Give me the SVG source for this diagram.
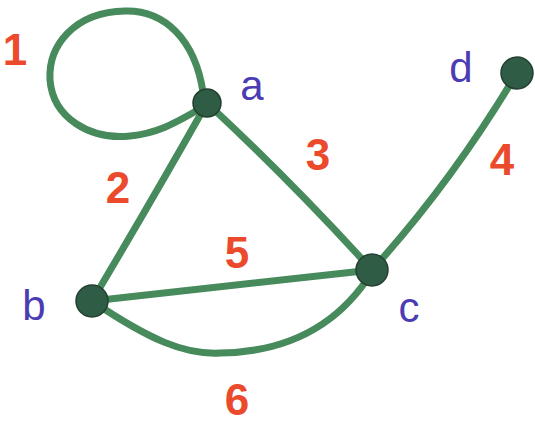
<svg xmlns="http://www.w3.org/2000/svg" width="535" height="427" viewBox="0 0 535 427">
<style>
.e{fill:none;stroke:#478a5c;stroke-width:7;stroke-linecap:round}
.n{fill:#2f5c44;stroke:#243f31;stroke-width:1.5}
.w{font-family:"Liberation Sans",Arial,sans-serif;font-size:44px;font-weight:bold;fill:#ec4a2c;text-anchor:middle}
.l{font-family:"Liberation Sans",Arial,sans-serif;font-size:42px;fill:#4b3cb4;text-anchor:middle}
</style>
<rect width="535" height="427" fill="#ffffff"/>
<g id="edges">
<path id="e1" class="e" d="M203,92 C195,40 165,10 125,11 C75,12 48,45 50,80 C53,118 90,140 130,136 C160,133 180,120 198,110"/>
<path id="e2" class="e" d="M207,103 Q155,195 92,301"/>
<path id="e3" class="e" d="M207,103 Q290,180 372,270"/>
<path id="e4" class="e" d="M372,270 Q452,182 517,73"/>
<path id="e5" class="e" d="M92,301 L372,270"/>
<path id="e6" class="e" d="M92,301 C150,340 185,355 220,353 C300,352 345,315 372,272"/>
</g>
<g id="a"><circle class="n" cx="207" cy="103" r="14"/><text class="l" x="252" y="100">a</text></g>
<g id="b"><circle class="n" cx="92" cy="301" r="16"/><text class="l" x="34" y="320">b</text></g>
<g id="c"><circle class="n" cx="372" cy="270" r="16"/><text class="l" x="409" y="322">c</text></g>
<g id="d"><circle class="n" cx="517" cy="73" r="16"/><text class="l" x="461" y="82">d</text></g>
<g id="labels">
<text class="w" x="15" y="65">1</text>
<text class="w" x="118" y="203">2</text>
<text class="w" x="318" y="170">3</text>
<text class="w" x="502" y="175">4</text>
<text class="w" x="237" y="268">5</text>
<text class="w" x="237" y="415">6</text>
</g>
</svg>
